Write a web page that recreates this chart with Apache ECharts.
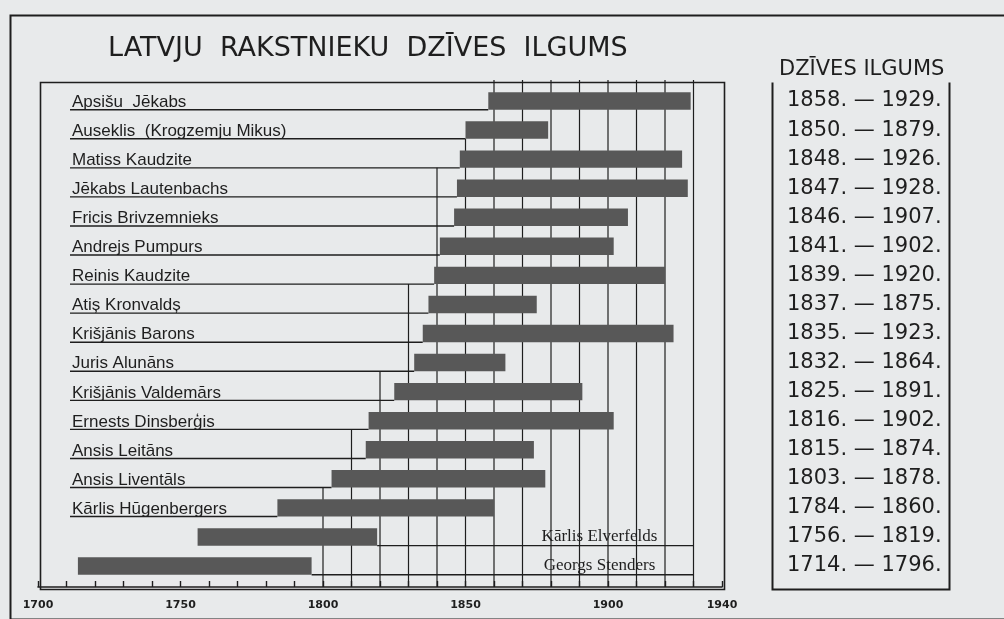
<!DOCTYPE html>
<html>
<head>
<meta charset="utf-8">
<title>Latvju rakstnieku dzīves ilgums</title>
<script src="https://cdn.jsdelivr.net/npm/echarts@6.0.0/dist/echarts.min.js"></script>
<style>
  html, body { margin: 0; padding: 0; background: #e8eaeb; }
  #chart { width: 1004px; height: 619px; }
</style>
</head>
<body>
<div id="chart"></div>
<script>
// writers, top to bottom
const names = [
  'Apsišu  Jēkabs',
  'Auseklis  (Krogzemju Mikus)',
  'Matiss Kaudzite',
  'Jēkabs Lautenbachs',
  'Fricis Brivzemnieks',
  'Andrejs Pumpurs',
  'Reinis Kaudzite',
  'Atiș Kronvaldș',
  'Krišjānis Barons',
  'Juris Alunāns',
  'Krišjānis Valdemārs',
  'Ernests Dinsberģis',
  'Ansis Leitāns',
  'Ansis Liventāls',
  'Kārlis Hūgenbergers',
  'Kārlis Elverfelds',
  'Georgs Stenders'
]
const born = [1858, 1850, 1848, 1847, 1846, 1841, 1839, 1837, 1835, 1832, 1825, 1816, 1815, 1803, 1784, 1756, 1714]
const died = [1929, 1879, 1926, 1928, 1907, 1902, 1920, 1875, 1923, 1864, 1891, 1902, 1874, 1878, 1860, 1819, 1796]
// the two oldest have their name written after the bar
const namePlacement = ['left', 'left', 'left', 'left', 'left', 'left', 'left', 'left', 'left',
  'left', 'left', 'left', 'left', 'left', 'left', 'right', 'right']

// x axis
const yearLabels = [1700, 1750, 1800, 1850, 1900, 1940]
// decade rules and the row where each one starts (staircase of the drawing)
const ruleYears = [1800, 1810, 1820, 1830, 1840, 1850, 1860, 1870, 1880, 1890, 1900, 1910, 1920, 1930]
const ruleStartRow = [14, 12, 10, 7, 3, 2, 0, 0, 0, 0, 0, 0, 0, 0]

const spanLabels = born.map((b, i) => b + '. — ' + died[i] + '.')

const INK = '#1e1e1e'
const BAR = '#585858'
const BAR_RATIO = 0.6
const PAD = 6.5
const GRID = { left: 38, top: 86.5, width: 684, height: 494 }

const chart = echarts.init(document.getElementById('chart'))

const renderRule = (params, api) => {
  const cs = params.coordSys
  const year = api.value(0)
  const startRow = api.value(1)
  const x = api.coord([year, 0])[0]
  const h = api.size([0, 1])[1] * BAR_RATIO
  const y1 = startRow === 0 ? cs.y - PAD : api.coord([year, startRow - 1])[1] + h / 2
  const y2 = cs.y + cs.height + PAD
  return {
    type: 'line',
    shape: { x1: x, y1: y1, x2: x, y2: y2 },
    style: { stroke: INK, lineWidth: 1.2 }
  }
}

const renderLife = (params, api) => {
  const cs = params.coordSys
  const i = params.dataIndex
  const row = api.value(0)
  const a = api.coord([api.value(1), row])
  const b = api.coord([api.value(2), row])
  const h = api.size([0, 1])[1] * BAR_RATIO
  const top = a[1] - h / 2
  const base = a[1] + h / 2
  const right = namePlacement[i] === 'right'
  const x1 = right ? b[0] : cs.x + 32
  const x2 = right ? api.coord([1930, row])[0] : a[0]
  const label = right
    ? {
        type: 'text',
        x: api.coord([1897, row])[0],
        y: base - 1,
        style: {
          text: names[i], fill: INK, align: 'center', verticalAlign: 'bottom',
          fontFamily: 'Liberation Serif', fontSize: 17
        }
      }
    : {
        type: 'text',
        x: cs.x + 34,
        y: base + 1,
        style: {
          text: names[i], fill: INK, align: 'left', verticalAlign: 'bottom',
          fontFamily: 'Liberation Sans', fontSize: 17
        }
      }
  return {
    type: 'group',
    children: [
      { type: 'line', shape: { x1: x1, y1: base, x2: x2, y2: base }, style: { stroke: INK, lineWidth: 1.4 } },
      { type: 'rect', shape: { x: a[0], y: top, width: b[0] - a[0], height: h }, style: { fill: BAR } },
      label
    ]
  }
}

const option = {
  backgroundColor: '#e8eaeb',
  animation: false,
  title: [
    {
      text: 'LATVJU  RAKSTNIEKU  DZĪVES  ILGUMS',
      left: 103,
      top: 30,
      textStyle: { fontFamily: 'DejaVu Sans', fontSize: 27, fontWeight: 'normal', color: INK }
    },
    {
      text: 'DZĪVES ILGUMS',
      left: 774,
      top: 54,
      textStyle: { fontFamily: 'DejaVu Sans', fontSize: 21, fontWeight: 'normal', color: INK }
    }
  ],
  grid: { left: GRID.left, top: GRID.top, width: GRID.width, height: GRID.height },
  xAxis: {
    type: 'value',
    min: 1700,
    max: 1940,
    interval: 10,
    offset: PAD,
    axisLine: { show: true, lineStyle: { color: INK, width: 1.6 } },
    axisTick: { show: true, inside: true, length: 6, lineStyle: { color: INK, width: 1.4 } },
    axisLabel: {
      margin: 13,
      color: INK,
      fontFamily: 'DejaVu Sans',
      fontWeight: 'bold',
      fontSize: 11,
      formatter: v => (yearLabels.includes(v) ? String(v) : '')
    },
    splitLine: { show: false }
  },
  yAxis: [
    {
      type: 'category',
      data: names,
      inverse: true,
      axisLine: { show: false },
      axisTick: { show: false },
      axisLabel: { show: false },
      splitLine: { show: false }
    },
    {
      type: 'category',
      data: spanLabels,
      inverse: true,
      position: 'right',
      axisLine: { show: false },
      axisTick: { show: false },
      axisLabel: {
        margin: 65,
        align: 'left',
        color: INK,
        fontFamily: 'DejaVu Sans',
        fontSize: 21
      },
      splitLine: { show: false }
    }
  ],
  graphic: [
    // outer frame
    { type: 'rect', left: 8, top: 13, z: -1, shape: { width: 1010, height: 604 },
      style: { fill: 'none', stroke: INK, lineWidth: 2 } },
    // chart frame
    { type: 'rect', left: GRID.left, top: GRID.top - PAD, shape: { width: GRID.width, height: GRID.height + 2 * PAD },
      style: { fill: 'none', stroke: INK, lineWidth: 1.6 } },
    // table frame
    { type: 'polyline', left: 770, top: 80,
      shape: { points: [[0, 0], [0, 507], [177, 507], [177, 0]] },
      style: { fill: 'none', stroke: INK, lineWidth: 2 } }
  ],
  series: [
    {
      type: 'custom',
      name: 'rules',
      z: 1,
      yAxisIndex: 0,
      renderItem: renderRule,
      encode: { x: 0, y: 1 },
      data: ruleYears.map((y, i) => [y, ruleStartRow[i]])
    },
    {
      type: 'custom',
      name: 'life',
      z: 2,
      yAxisIndex: 0,
      renderItem: renderLife,
      encode: { x: [1, 2], y: 0 },
      data: names.map((n, i) => [i, born[i], died[i]])
    }
  ]
}

chart.setOption(option)
</script>
</body>
</html>
